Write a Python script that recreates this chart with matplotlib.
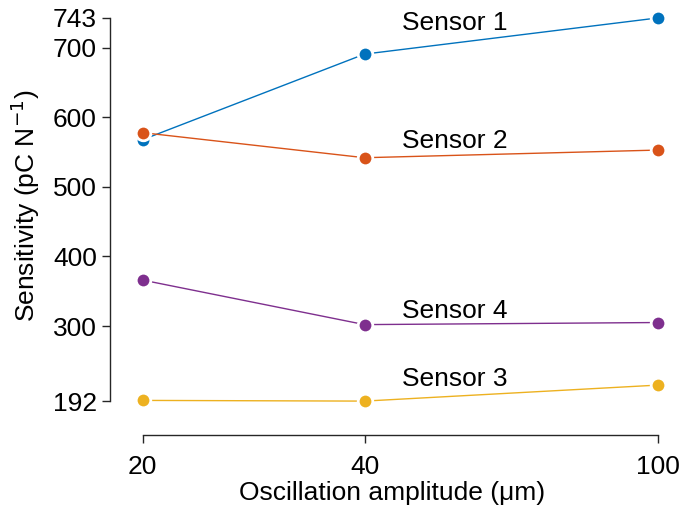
import numpy as np
import matplotlib.pyplot as plt

plt.rcParams['font.family'] = ['Liberation Sans', 'DejaVu Sans']

# amplitude (um) and sensitivity (pC/N)
amplitude = [20, 40, 100]
sensor1 = [568, 691, 743]
sensor2 = [578, 542, 553]
sensor3 = [193, 192, 215]
sensor4 = [366, 302, 305]

names = ['Sensor 1', 'Sensor 2', 'Sensor 3', 'Sensor 4']
colors = ['#0072BD', '#D95319', '#EDB120', '#7E2F8E']
label_y = [736, 566, 224, 322]

yticks = [192, 300, 400, 500, 600, 700, 743]

fig = plt.figure(figsize=(6.83, 5.15), dpi=100)
ax = fig.add_axes([0.161, 0.155, 0.827, 0.825])

for vals, c, name, ly in zip([sensor1, sensor2, sensor3, sensor4], colors, names, label_y):
    ax.plot(amplitude, vals, '-o', color=c, lw=1.0, ms=10.5,
            mfc=c, mec='white', mew=2.0, zorder=3)
    ax.text(45, ly, name, fontsize=19, ha='left', va='center')

ax.set_xscale('log')
ax.set_xlim(18.05, 105.5)
ax.set_ylim(143, 754)
ax.set_xticks(amplitude)
ax.set_xticklabels([str(a) for a in amplitude])
ax.minorticks_off()
ax.set_yticks(yticks)

for s in ['top', 'right']:
    ax.spines[s].set_visible(False)
ax.spines['left'].set_bounds(192, 743)
ax.spines['bottom'].set_bounds(20, 100)
for s in ['left', 'bottom']:
    ax.spines[s].set_linewidth(1.0)
    ax.spines[s].set_color('#262626')

ax.tick_params(direction='out', length=6, width=1.0, labelsize=19, colors='#262626',
               labelcolor='black')
ax.tick_params(axis='x', pad=8)

ax.set_xlabel('Oscillation amplitude (μm)', fontsize=19, labelpad=2)
ax.set_ylabel('Sensitivity (pC N$^{-1}$)', fontsize=19)
ax.yaxis.set_label_coords(-0.12, 0.541)

fig.savefig('out.png', dpi=100)
